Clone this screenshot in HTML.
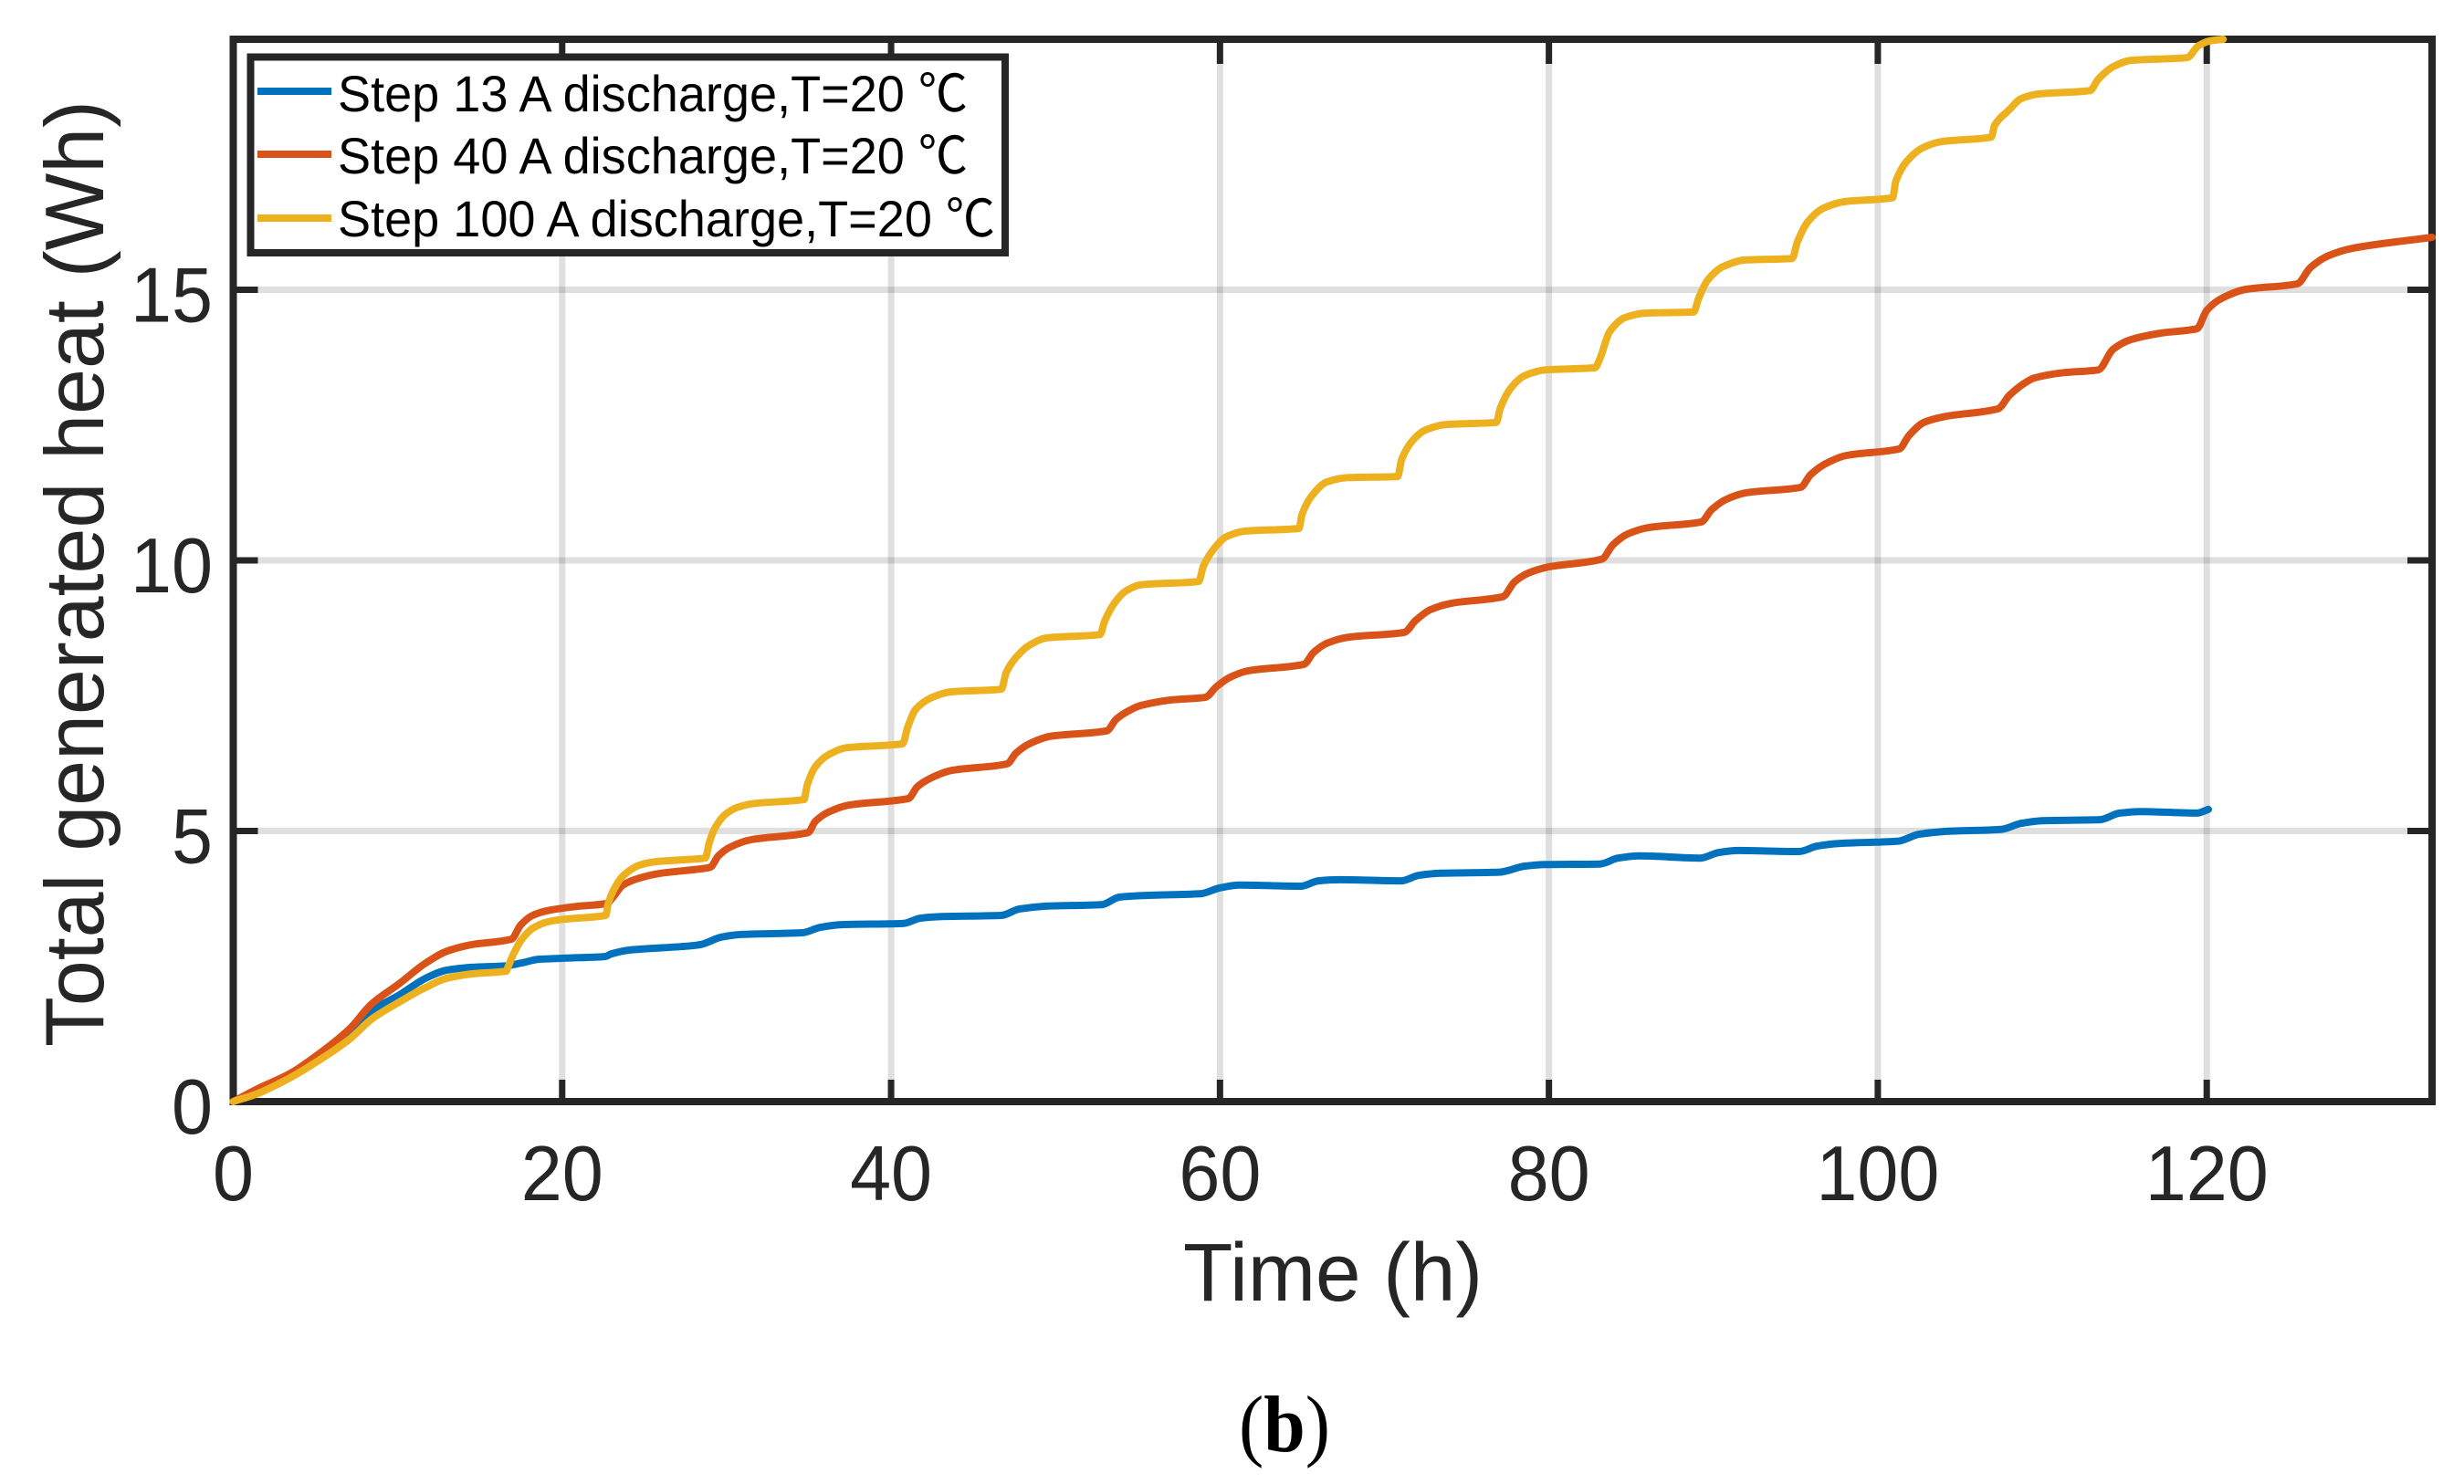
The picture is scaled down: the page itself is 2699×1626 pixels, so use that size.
<!DOCTYPE html>
<html lang="en">
<head>
<meta charset="utf-8">
<title>Total generated heat vs time</title>
<style>
html,body{margin:0;padding:0;background:#fff;}
svg{display:block;}
text{font-family:"Liberation Sans","Noto Sans CJK SC",sans-serif;}
</style>
</head>
<body>
<svg id="chart" xmlns="http://www.w3.org/2000/svg" width="2699" height="1626" viewBox="0 0 2699 1626">
  <rect x="0" y="0" width="2699" height="1626" fill="#fff"/>
  <g id="grid"></g>
  <rect x="255.5" y="43" width="2408.5" height="1164" fill="none" stroke="#262626" stroke-width="8"/>
  <g id="ticks"></g>
  <g id="tick-labels"></g>
  <g id="series"></g>

  <text x="1296" y="1425" font-size="90" fill="#262626" textLength="328" lengthAdjust="spacingAndGlyphs">Time (h)</text>
  <text transform="translate(113,1147) rotate(-90)" x="0" y="0" font-size="91" fill="#262626" textLength="1037" lengthAdjust="spacingAndGlyphs">Total generated heat (Wh)</text>

  <g>
    <rect x="274.5" y="62.5" width="826.5" height="214.5" fill="#fff" stroke="#262626" stroke-width="8"/>
    <line x1="282" x2="363" y1="100" y2="100" stroke="#0072BD" stroke-width="8"/>
    <text x="370" y="122" font-size="56" fill="#000" textLength="690" lengthAdjust="spacingAndGlyphs">Step 13 A discharge,T=20 ℃</text>
    <line x1="282" x2="363" y1="169" y2="169" stroke="#D95319" stroke-width="8"/>
    <text x="370" y="190" font-size="56" fill="#000" textLength="690" lengthAdjust="spacingAndGlyphs">Step 40 A discharge,T=20 ℃</text>
    <line x1="282" x2="363" y1="239" y2="239" stroke="#EDB120" stroke-width="8"/>
    <text x="370" y="259" font-size="56" fill="#000" textLength="720" lengthAdjust="spacingAndGlyphs">Step 100 A discharge,T=20 ℃</text>
  </g>

  <text x="1357" y="1590" font-size="88" fill="#000" textLength="100" lengthAdjust="spacingAndGlyphs" style="font-family:'Liberation Serif',serif">(<tspan font-weight="bold">b</tspan>)</text>
</svg>

<script>
const xTicks = [0, 20, 40, 60, 80, 100, 120];
const yTicks = [0, 5, 10, 15];
const xLimits = [0, 133.7];
const yLimits = [0, 19.63];

const blueTime = [0,1.5,3.4,5.2,7.1,8.4,10.1,11.7,13,14.5,16.6,17.5,18.6,20.1,22.6,23,24.1,27.5,28.4,29.7,31,34.6,35.7,37,40.7,41.8,43.1,46.7,47.8,49.4,52.8,53.9,55.5,58.8,60,61.2,64.9,66,67.3,71,72.1,73.4,77,78.5,79.8,83.1,84.2,85.5,89.2,90.3,91.5,95.2,96.3,97.6,101.2,102.5,104,107.5,108.7,110,113.5,114.7,116,119.4,120.1];
const blueHeat = [0,0.18,0.47,0.82,1.25,1.67,1.97,2.28,2.43,2.48,2.51,2.56,2.63,2.65,2.68,2.73,2.8,2.87,2.9,3.04,3.09,3.12,3.22,3.27,3.29,3.39,3.42,3.44,3.56,3.61,3.64,3.78,3.81,3.84,3.95,4,3.98,4.08,4.1,4.08,4.18,4.22,4.24,4.35,4.38,4.39,4.5,4.54,4.5,4.6,4.64,4.62,4.72,4.77,4.81,4.94,4.99,5.03,5.14,5.19,5.21,5.33,5.36,5.33,5.4];

const redTime = [0,1.5,3.4,5.2,7.1,8.4,10.1,11.7,13,14.5,16.9,17.5,18.2,19.3,21,22.7,23.1,23.7,24.7,26,27.5,29,29.5,30.2,31.5,34.95,35.4,36.2,37.45,41.05,41.6,42.5,43.7,47.05,47.6,48.4,49.7,53.1,53.7,54.5,55.2,57,59.1,59.8,60.6,61.7,65.1,65.7,66.5,67.8,71.2,71.9,72.8,74.1,77.2,77.9,78.7,80,83.2,83.9,84.8,86.1,89.25,89.9,90.8,92,95.3,95.9,96.9,98.1,101.3,101.9,102.8,104.1,107.3,108,108.9,109.5,111.3,113.4,114.3,115.4,117.2,119.4,120,120.9,122.4,125.5,126.3,127.4,128.9,133.7];
const redHeat = [0,0.24,0.51,0.88,1.35,1.8,2.18,2.56,2.78,2.9,3,3.27,3.44,3.54,3.61,3.66,3.78,4,4.13,4.22,4.27,4.33,4.54,4.7,4.84,4.97,5.18,5.35,5.48,5.6,5.82,5.99,6.12,6.24,6.44,6.61,6.75,6.85,7.07,7.23,7.32,7.42,7.47,7.67,7.84,7.96,8.08,8.3,8.47,8.58,8.67,8.89,9.09,9.21,9.33,9.6,9.76,9.88,10.02,10.29,10.49,10.61,10.71,10.94,11.13,11.25,11.35,11.58,11.8,11.94,12.06,12.31,12.55,12.66,12.8,13.05,13.27,13.37,13.47,13.52,13.9,14.08,14.2,14.28,14.62,14.84,15.01,15.11,15.41,15.63,15.77,15.97];

const yellowTime = [0,1.5,3.4,5.2,7.1,8.4,10.1,11.7,13,14.5,16.6,16.7,17,17.5,18.2,19.1,20.1,22.65,22.8,23.2,23.7,24.7,25.6,27.5,28.7,28.95,29.3,29.9,30.6,31.7,34.7,34.9,35.4,36.2,37.3,40.7,41,41.5,42.5,43.6,46.7,47,47.6,48.4,49.5,52.7,53,53.6,54.3,55.2,58.7,59,59.7,60.4,61.5,64.8,65,65.6,66.5,67.8,70.8,71.05,71.7,72.5,73.7,76.8,77.05,77.7,78.5,79.8,82.8,83.1,83.7,84.65,85.9,88.8,89.1,89.65,90.6,91.9,94.8,95.1,95.75,96.7,98,100.9,101.1,101.75,102.7,103.9,106.9,107.1,108,108.7,109.8,112.9,113.4,114.3,115.4,118.8,119.5,120.2,121];
const yellowHeat = [0,0.15,0.43,0.76,1.16,1.52,1.84,2.11,2.28,2.36,2.41,2.48,2.7,2.98,3.2,3.32,3.37,3.44,3.66,3.95,4.17,4.37,4.43,4.47,4.5,4.79,5.06,5.3,5.43,5.51,5.58,5.85,6.19,6.41,6.54,6.61,6.91,7.25,7.47,7.57,7.62,7.93,8.21,8.43,8.57,8.63,8.89,9.22,9.44,9.55,9.61,9.9,10.24,10.44,10.54,10.59,10.86,11.2,11.45,11.53,11.55,11.87,12.21,12.41,12.51,12.55,12.82,13.19,13.41,13.52,13.56,13.73,14.23,14.49,14.57,14.59,14.84,15.18,15.43,15.55,15.58,15.88,16.26,16.51,16.63,16.7,17.01,17.37,17.62,17.74,17.82,18.04,18.33,18.53,18.62,18.68,18.89,19.12,19.24,19.29,19.51,19.6,19.63];

const NS = 'http://www.w3.org/2000/svg';
const plotLeft = 255.5, plotRight = 2664, plotTop = 43, plotBottom = 1207;

function xScale(t) {
  return plotLeft + (t - xLimits[0]) / (xLimits[1] - xLimits[0]) * (plotRight - plotLeft);
}
function yScale(v) {
  return plotBottom - (v - yLimits[0]) / (yLimits[1] - yLimits[0]) * (plotBottom - plotTop);
}
function line(parent, x1, y1, x2, y2, stroke, width, opacity) {
  const el = document.createElementNS(NS, 'line');
  el.setAttribute('x1', x1);
  el.setAttribute('y1', y1);
  el.setAttribute('x2', x2);
  el.setAttribute('y2', y2);
  el.setAttribute('stroke', stroke);
  el.setAttribute('stroke-width', width);
  if (opacity) el.setAttribute('stroke-opacity', opacity);
  parent.appendChild(el);
  return el;
}
function label(parent, x, y, anchor, str) {
  const el = document.createElementNS(NS, 'text');
  el.setAttribute('x', x);
  el.setAttribute('y', y);
  el.setAttribute('text-anchor', anchor);
  el.setAttribute('font-size', '85');
  el.setAttribute('fill', '#262626');
  el.setAttribute('textLength', String(str.length * 45));
  el.setAttribute('lengthAdjust', 'spacingAndGlyphs');
  el.textContent = str;
  parent.appendChild(el);
  return el;
}

const gridGroup = document.getElementById('grid');
const tickGroup = document.getElementById('ticks');
const labelGroup = document.getElementById('tick-labels');
const seriesGroup = document.getElementById('series');

xTicks.forEach(function (t) {
  const px = xScale(t);
  if (t !== xLimits[0]) {
    const g = line(gridGroup, px, plotTop, px, plotBottom, '#262626', 7, 0.15);
    
    
    const b = line(tickGroup, px, plotBottom, px, plotBottom - 24, '#262626', 7);
    
    
    const u = line(tickGroup, px, plotTop, px, plotTop + 27, '#262626', 7);
    
    
  }
  const l = label(labelGroup, px, 1315, 'middle', String(t));
  
  
});

yTicks.forEach(function (v) {
  const py = yScale(v);
  if (v !== yLimits[0]) {
    const g = line(gridGroup, plotLeft, py, plotRight, py, '#262626', 7, 0.15);
    
    
    const a = line(tickGroup, plotLeft, py, plotLeft + 27, py, '#262626', 7);
    
    
    const c = line(tickGroup, plotRight, py, plotRight - 27, py, '#262626', 7);
    
    
  }
  const l = label(labelGroup, 233, py + 35, 'end', String(v));
  
  
});

function smoothPath(times, heats) {
  const xs = times.map(xScale);
  const ys = heats.map(yScale);
  const n = xs.length;
  const slopes = [];
  for (let i = 0; i < n - 1; i++) {
    slopes.push((ys[i + 1] - ys[i]) / (xs[i + 1] - xs[i]));
  }
  const tangents = [slopes[0]];
  for (let i = 1; i < n - 1; i++) {
    const a = slopes[i - 1], b = slopes[i];
    tangents.push(a * b > 0 ? 2 * a * b / (a + b) : 0);
  }
  tangents.push(slopes[n - 2]);
  let d = 'M' + xs[0].toFixed(1) + ' ' + ys[0].toFixed(1);
  for (let i = 0; i < n - 1; i++) {
    const h = (xs[i + 1] - xs[i]) / 3;
    d += 'C' + (xs[i] + h).toFixed(1) + ' ' + (ys[i] + tangents[i] * h).toFixed(1) + ' ' +
         (xs[i + 1] - h).toFixed(1) + ' ' + (ys[i + 1] - tangents[i + 1] * h).toFixed(1) + ' ' +
         xs[i + 1].toFixed(1) + ' ' + ys[i + 1].toFixed(1);
  }
  return d;
}

function drawSeries(times, heats, color) {
  const el = document.createElementNS(NS, 'path');
  el.setAttribute('d', smoothPath(times, heats));
  el.setAttribute('fill', 'none');
  el.setAttribute('stroke', color);
  el.setAttribute('stroke-width', '8');
  el.setAttribute('stroke-linejoin', 'round');
  el.setAttribute('stroke-linecap', 'round');
  seriesGroup.appendChild(el);
  return el;
}

const blueLine = drawSeries(blueTime, blueHeat, '#0072BD');


const redLine = drawSeries(redTime, redHeat, '#D95319');


const yellowLine = drawSeries(yellowTime, yellowHeat, '#EDB120');


</script>
</body>
</html>
